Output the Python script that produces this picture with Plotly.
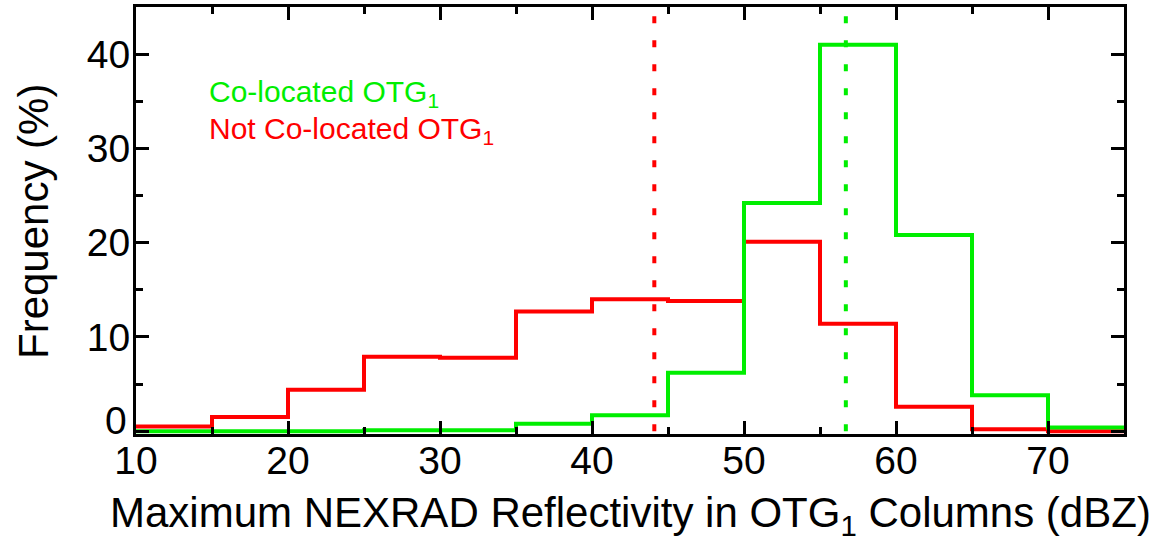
import plotly.graph_objects as go

# Bin edges (dBZ) and frequencies (%)
bin_edges = [10, 15, 20, 25, 30, 35, 40, 45, 50, 55, 60, 65, 70, 75]
colocated = [0.0, 0.0, 0.0, 0.1, 0.1, 0.8, 1.7, 6.2, 24.2, 41.0, 20.8, 3.8, 0.4]
not_colocated = [0.5, 1.5, 4.4, 7.9, 7.8, 12.7, 14.0, 13.8, 20.1, 11.4, 2.6, 0.2, 0.0]
mean_colocated = 56.7
mean_not_colocated = 44.1
y_tickvals = [0, 10, 20, 30, 40]
y_ticktext = ["", "10", "20", "30", "40"]   # the "0" label is drawn slightly raised, as in the original

green = "#00ee00"
red = "#ff0000"
font = "Liberation Sans, Arial, Helvetica, sans-serif"

# plot-area geometry (px)
L, R, T, B = 136, 38, 7, 110
W, H = 1162, 544
PW, PH = W - L - R, H - T - B

def step(values):
    return bin_edges, list(values) + [values[-1]]

fig = go.Figure()
gx, gy = step(colocated)
rx, ry = step(not_colocated)
fig.add_trace(go.Scatter(x=rx, y=ry, mode="lines", line=dict(color=red, width=4, shape="hv"),
                         showlegend=False))
fig.add_trace(go.Scatter(x=gx, y=gy, mode="lines", line=dict(color=green, width=4, shape="hv"),
                         showlegend=False))
fig.add_trace(go.Scatter(x=[mean_not_colocated] * 2, y=[0, 45], mode="lines",
                         line=dict(color=red, width=4, dash="7px,17px"), showlegend=False))
fig.add_trace(go.Scatter(x=[mean_colocated] * 2, y=[0, 45], mode="lines",
                         line=dict(color=green, width=4, dash="7px,17px"), showlegend=False))

fig.add_annotation(x=(207 - L) / PW, y=(T + PH - 93) / PH, xref="paper", yref="paper",
                   xanchor="left", yanchor="middle",
                   text="Co-located OTG<sub>1</sub>", showarrow=False,
                   font=dict(family=font, size=30, color=green))
fig.add_annotation(x=(207 - L) / PW, y=(T + PH - 130) / PH, xref="paper", yref="paper",
                   xanchor="left", yanchor="middle",
                   text="Not Co-located OTG<sub>1</sub>", showarrow=False,
                   font=dict(family=font, size=30, color=red))

# raised "0" y tick label
fig.add_annotation(x=(129 - L) / PW, y=(T + PH - 420) / PH, xref="paper", yref="paper",
                   xanchor="right", yanchor="middle", showarrow=False, text="0",
                   font=dict(family=font, size=39, color="black"))

# axis titles
fig.add_annotation(x=0.5 * (105 + 1155 - 2 * L) / PW, y=(T + PH - 515) / PH, xref="paper", yref="paper",
                   xanchor="center", yanchor="middle", showarrow=False,
                   text="Maximum NEXRAD Reflectivity in OTG<sub>1</sub> Columns (dBZ)",
                   font=dict(family=font, size=42, color="black"))
fig.add_annotation(x=(33 - L) / PW, y=(T + PH - 222) / PH, xref="paper", yref="paper",
                   xanchor="center", yanchor="middle", showarrow=False, textangle=-90,
                   text="Frequency (%)",
                   font=dict(family=font, size=42, color="black"))

axis_common = dict(showgrid=False, zeroline=False, showline=True, linecolor="black", linewidth=3,
                   mirror="allticks", ticks="inside", ticklen=13, tickwidth=3, tickcolor="black",
                   automargin=False,
                   tickfont=dict(family=font, size=39, color="black"))

fig.update_xaxes(range=[10, 75], tick0=10, dtick=10,
                 minor=dict(ticks="inside", ticklen=7, tickwidth=3, tickcolor="black", dtick=5),
                 ticklabelstandoff=-10,
                 **axis_common)
fig.update_yaxes(range=[-0.3, 45], tickvals=y_tickvals, ticktext=y_ticktext,
                 minor=dict(ticks="inside", ticklen=7, tickwidth=3, tickcolor="black", dtick=5),
                 ticklabelstandoff=-5,
                 **axis_common)

fig.update_layout(width=W, height=H, plot_bgcolor="white", paper_bgcolor="white",
                  margin=dict(l=L, r=R, t=T, b=B, autoexpand=False))

fig.write_html("out.html", config={"displayModeBar": False},
               post_script="document.body.style.margin='0';document.body.style.overflow='hidden';")
